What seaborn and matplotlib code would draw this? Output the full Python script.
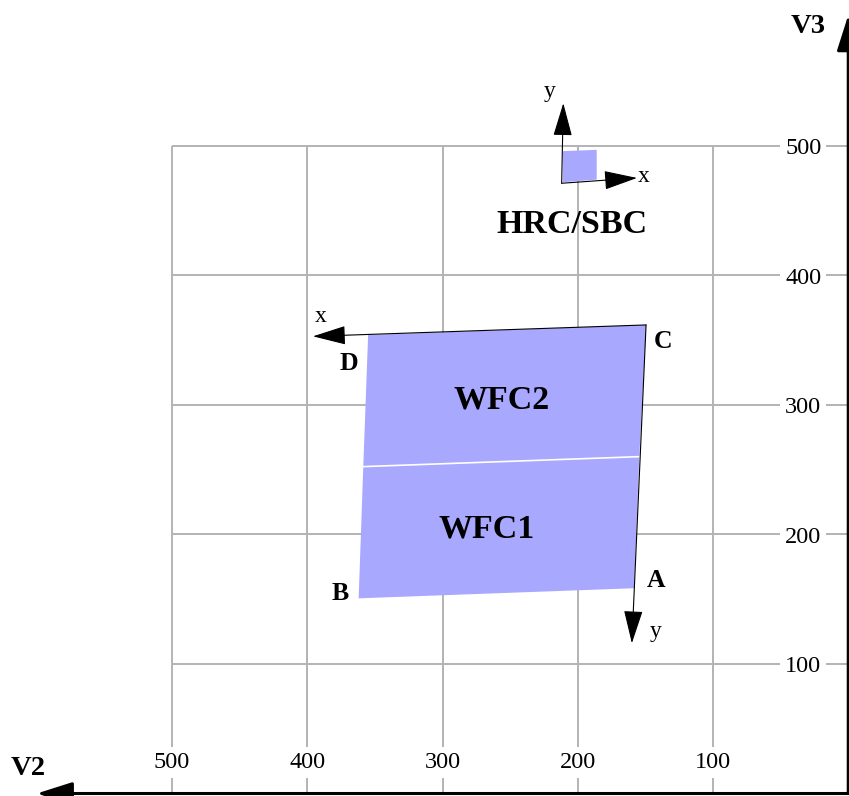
import matplotlib
matplotlib.use("Agg")
import matplotlib.pyplot as plt
import seaborn as sns

# Grid / tick values (V2 runs right-to-left)
v2_ticks = [500, 400, 300, 200, 100]
v3_ticks = [100, 200, 300, 400, 500]
grid_max = 500

# WFC chips (V2, V3 corners)
wfc2_v2 = [355.0, 149.5, 154.5, 358.6]
wfc2_v3 = [354.0, 361.8, 260.1, 252.4]
wfc1_v2 = [358.6, 154.5, 158.4, 362.0]
wfc1_v3 = [252.4, 260.1, 158.5, 150.7]

# HRC/SBC aperture
hrc_v2 = [211.0, 186.0, 186.0, 211.0]
hrc_v3 = [472.0, 474.0, 497.0, 496.0]

# detector axes: origin, x tip, y tip
wfc_origin = (149.5, 361.8)
wfc_xtip = (395.8, 353.0)
wfc_ytip = (160.0, 116.0)
hrc_origin = (211.9, 471.2)
hrc_xtip = (156.2, 475.3)
hrc_ytip = (210.7, 533.0)

sns.set_theme(style="white")
plt.rcParams["font.family"] = ["Liberation Serif", "DejaVu Serif"]
plt.rcParams["text.color"] = "black"

fig = plt.figure(figsize=(8.49, 7.96), dpi=100)
ax = fig.add_axes([0, 0, 1, 1])
ax.set_xlim(627.2, -0.55)
ax.set_ylim(-1.93, 612.7)
ax.axis("off")

fill = "#a8a8ff"

# grid
grid_kw = dict(color="#b3b3b3", lw=1.4, zorder=1)
ax.vlines(v2_ticks, 0, grid_max, **grid_kw)
ax.hlines(v3_ticks, 0, grid_max, **grid_kw)

box = dict(fc="white", ec="none", pad=3.5)
for v in v2_ticks:
    ax.text(v, 19.5, str(v), ha="center", va="baseline", fontsize=17.5,
            bbox=box, zorder=2)
for v in v3_ticks:
    ax.text(33.2, v - 6.5, str(v), ha="center", va="baseline", fontsize=17.5,
            bbox=box, zorder=2)

# apertures
ax.fill(wfc2_v2, wfc2_v3, color=fill, lw=0, zorder=3)
ax.fill(wfc1_v2, wfc1_v3, color=fill, lw=0, zorder=3)
sns.lineplot(x=[wfc1_v2[0], wfc1_v2[1]], y=[wfc1_v3[0], wfc1_v3[1]],
             color="white", lw=1.2, ax=ax, zorder=4)
ax.fill(hrc_v2, hrc_v3, color=fill, lw=0, zorder=3)


def arrow(start, end, lw, hl, hw):
    ax.annotate("", xy=end, xytext=start, annotation_clip=False, zorder=5,
                arrowprops=dict(arrowstyle=f"-|>,head_length={hl},head_width={hw}",
                                lw=lw, color="black", shrinkA=0, shrinkB=0,
                                mutation_scale=1))


arrow(wfc_origin, wfc_xtip, 0.8, 21, 6)
arrow(wfc_origin, wfc_ytip, 0.8, 21, 6)
arrow(hrc_origin, hrc_xtip, 0.8, 21, 6)
arrow(hrc_origin, hrc_ytip, 0.8, 21, 6)

# V2 / V3 axes
arrow((0, 0), (600, 0), 2.2, 22, 7)
arrow((0, 0), (0, 601), 2.2, 22, 7)

# labels
big = dict(ha="center", va="baseline", fontsize=24.5, fontweight="bold", zorder=6)
ax.text(204.3, 432.7, "HRC/SBC", **big)
ax.text(256.0, 297.5, "WFC2", **big)
ax.text(267.3, 197.3, "WFC1", **big)

corner = dict(ha="center", va="baseline", fontsize=18.5, fontweight="bold", zorder=6)
ax.text(136.7, 344.0, "C", **corner)
ax.text(368.9, 327.0, "D", **corner)
ax.text(375.8, 149.4, "B", **corner)
ax.text(142.4, 159.7, "A", **corner)

small = dict(ha="center", va="baseline", fontsize=17, zorder=6)
ax.text(390.0, 364.3, "x", **small)
ax.text(142.4, 121.1, "y", **small)
ax.text(220.5, 538.1, "y", **small)
ax.text(151.5, 472.5, "x", **small)

axlab = dict(ha="center", va="baseline", fontsize=20.5, fontweight="bold", zorder=6)
ax.text(606.2, 14.3, "V2", **axlab)
ax.text(29.8, 587.0, "V3", **axlab)

fig.savefig("out.png", dpi=100)
